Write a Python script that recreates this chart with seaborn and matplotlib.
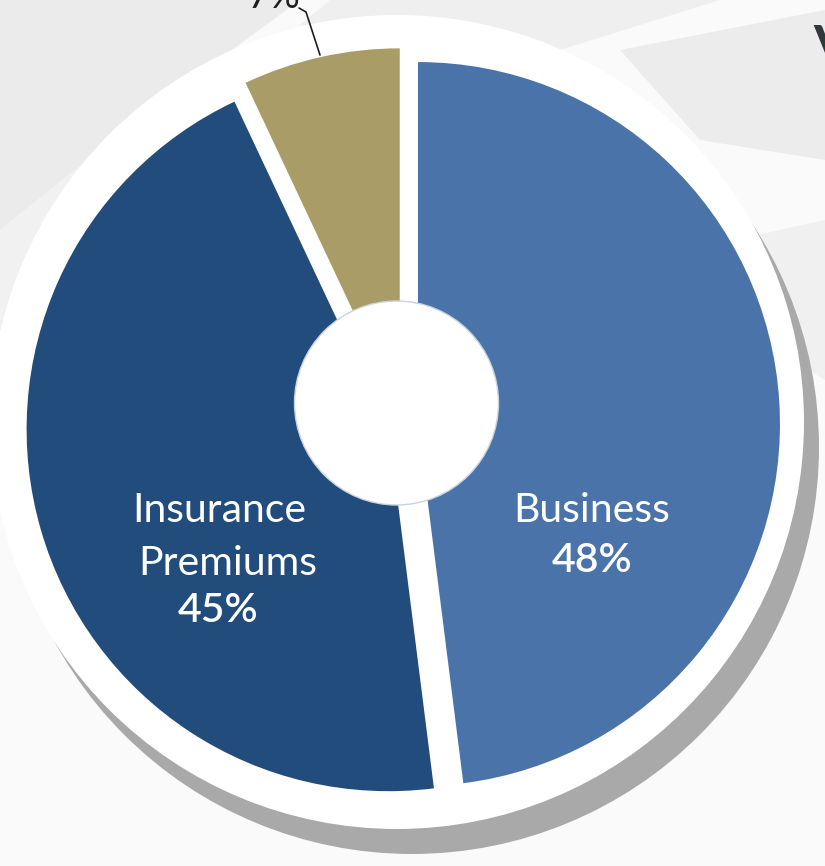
import matplotlib
matplotlib.use("Agg")
import matplotlib.pyplot as plt
from matplotlib.patches import Circle, Polygon
import seaborn as sns

# Revenue sources
categories = ["Business", "Insurance\nPremiums", ""]
shares = [48, 45, 7]
slice_colors = ["#4a74a9", "#224c7b", "#aa9c66"]

sns.set_theme(style="white")
plt.rcParams["font.family"] = ["Lato", "DejaVu Sans"]

W, H = 825, 866
fig = plt.figure(figsize=(W / 100, H / 100), dpi=100)
ax = fig.add_axes([0, 0, 1, 1])


def Y(y):
    # layout helper: positions are measured from the top edge
    return H - y


# paper-like backdrop with soft folds
fig.patch.set_facecolor("#fafafa")
ax.set_facecolor("#fafafa")
folds = [
    [(0, H), (300, H), (150, Y(110)), (0, Y(230))],
    [(0, Y(230)), (150, Y(110)), (60, Y(260)), (0, Y(330))],
    [(330, H), (720, H), (560, Y(50)), (300, Y(25))],
    [(620, Y(50)), (W, Y(10)), (W, Y(160)), (700, Y(140))],
    [(690, Y(250)), (W, Y(220)), (W, Y(380)), (760, Y(340))],
]
fold_shades = ["#ebebeb", "#f1f1f1", "#efefef", "#ececec", "#f0f0f0"]
for pts, shade in zip(folds, fold_shades):
    ax.add_patch(Polygon(pts, closed=True, facecolor=shade, edgecolor="none", zorder=0))

# drop shadow and white plate behind the donut
ax.add_patch(Circle((412, Y(447)), 407, facecolor="#a9a9a9", edgecolor="none", zorder=1))
ax.add_patch(Circle((397, Y(422)), 407, facecolor="white", edgecolor="none", zorder=2))

wedges, _ = ax.pie(
    shares,
    colors=slice_colors,
    startangle=90,
    counterclock=False,
    radius=362,
    center=(403, Y(425)),
    explode=[15, 15, 15],
    wedgeprops=dict(linewidth=0),
)
for w in wedges:
    w.set_zorder(3)

# donut hole
ax.add_patch(Circle((396.5, Y(403)), 102, facecolor="white", edgecolor="#c8d3e2",
                    linewidth=1.0, zorder=4))

# in-slice labels
name_kw = dict(color="white", fontsize=29.5, ha="center", va="baseline", zorder=5)
pct_kw = dict(color="white", fontsize=29.5, fontweight="semibold", ha="center",
              va="baseline", zorder=5)

biz_lines = categories[0].split("\n")
ax.text(592, Y(522), biz_lines[0], **name_kw)
ax.text(592, Y(572), f"{shares[0]}%", **pct_kw)

ins_lines = categories[1].split("\n")
ax.text(219, Y(522), ins_lines[0], **name_kw)
ax.text(228, Y(575), ins_lines[1], **name_kw)
ax.text(218, Y(622), f"{shares[1]}%", **pct_kw)

# outside label for the small slice with a leader line
ax.text(274, Y(8), f"{shares[2]}%", color="#1e1e1e", fontsize=27, ha="center",
        va="baseline", zorder=5)
ax.plot([299, 306, 320], [Y(8), Y(12), Y(55)], color="#1e1e1e", linewidth=1.2,
        solid_capstyle="round", zorder=5)

# edge of the heading on the right
ax.text(813, Y(24), "V", color="#2f3939", fontsize=40, fontweight="bold",
        ha="left", va="top", zorder=5)

ax.set_xlim(0, W)
ax.set_ylim(0, H)
ax.set_aspect("auto")
ax.axis("off")

fig.savefig("out.png", dpi=100, facecolor=fig.get_facecolor())
